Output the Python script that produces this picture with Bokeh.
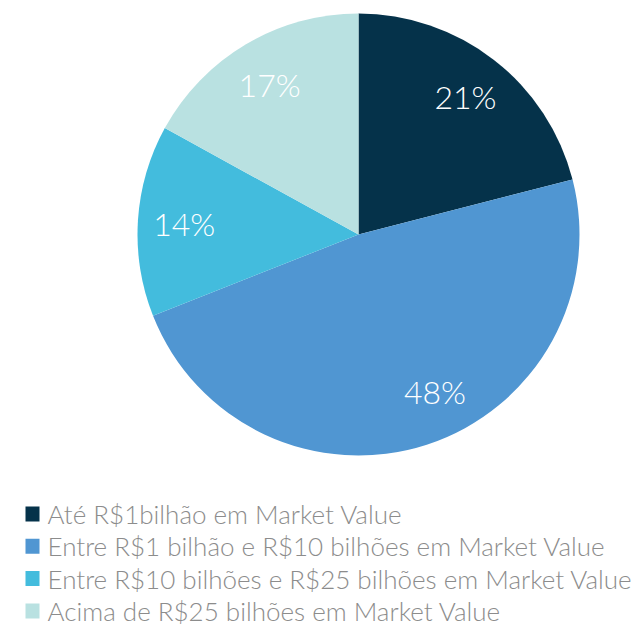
import math
from bokeh.plotting import figure
from bokeh.models import ColumnDataSource
from bokeh.core.properties import value
from bokeh.embed import file_html
from bokeh.resources import INLINE

categories = [
    "Até R$1bilhão em Market Value",
    "Entre R$1 bilhão e R$10 bilhões em Market Value",
    "Entre R$10 bilhões e R$25 bilhões em Market Value",
    "Acima de R$25 bilhões em Market Value",
]
shares = [21, 48, 14, 17]
labels = ["21%", "48%", "14%", "17%"]
colors = ["#05324a", "#5096d2", "#43bcdd", "#b9e1e1"]
label_shift_deg = [0, 8, 0, 0]

W, H = 644, 626
cx, cy, R = 358, H - 234, 221
label_r = 0.79 * R
FONT = "Lato Light"

total = float(sum(shares))
starts, ends, lx, ly = [], [], [], []
acc = 0.0
for s, sh in zip(shares, label_shift_deg):
    a0 = math.pi / 2 - 2 * math.pi * acc / total
    acc += s
    a1 = math.pi / 2 - 2 * math.pi * acc / total
    starts.append(a0)
    ends.append(a1)
    mid = (a0 + a1) / 2 + math.radians(sh)
    lx.append(cx + label_r * math.cos(mid))
    ly.append(cy + label_r * math.sin(mid))

p = figure(width=W, height=H, x_range=(0, W), y_range=(0, H),
           output_backend="svg", toolbar_location=None, min_border=0)
p.axis.visible = False
p.grid.visible = False
p.outline_line_color = None

src = ColumnDataSource(dict(start=starts, end=ends, color=colors))
p.wedge(x=cx, y=cy, radius=R, start_angle="end", end_angle="start",
        fill_color="color", line_color=None, source=src)

p.text(x=lx, y=ly, text=labels, text_color="white", text_font=value(FONT),
       text_font_size="32px", text_align="center", text_baseline="middle")

# legend
ys = [H - 513.5 - i * 32.3 for i in range(len(categories))]
p.rect(x=[32] * 4, y=ys, width=14, height=15, fill_color=colors, line_color=None)
p.text(x=[47] * 4, y=ys, text=categories, text_color="#8c8c8c",
       text_font=value(FONT), text_font_size="26px", text_align="left",
       text_baseline="middle")

open("out.html", "w").write(file_html(p, INLINE))
